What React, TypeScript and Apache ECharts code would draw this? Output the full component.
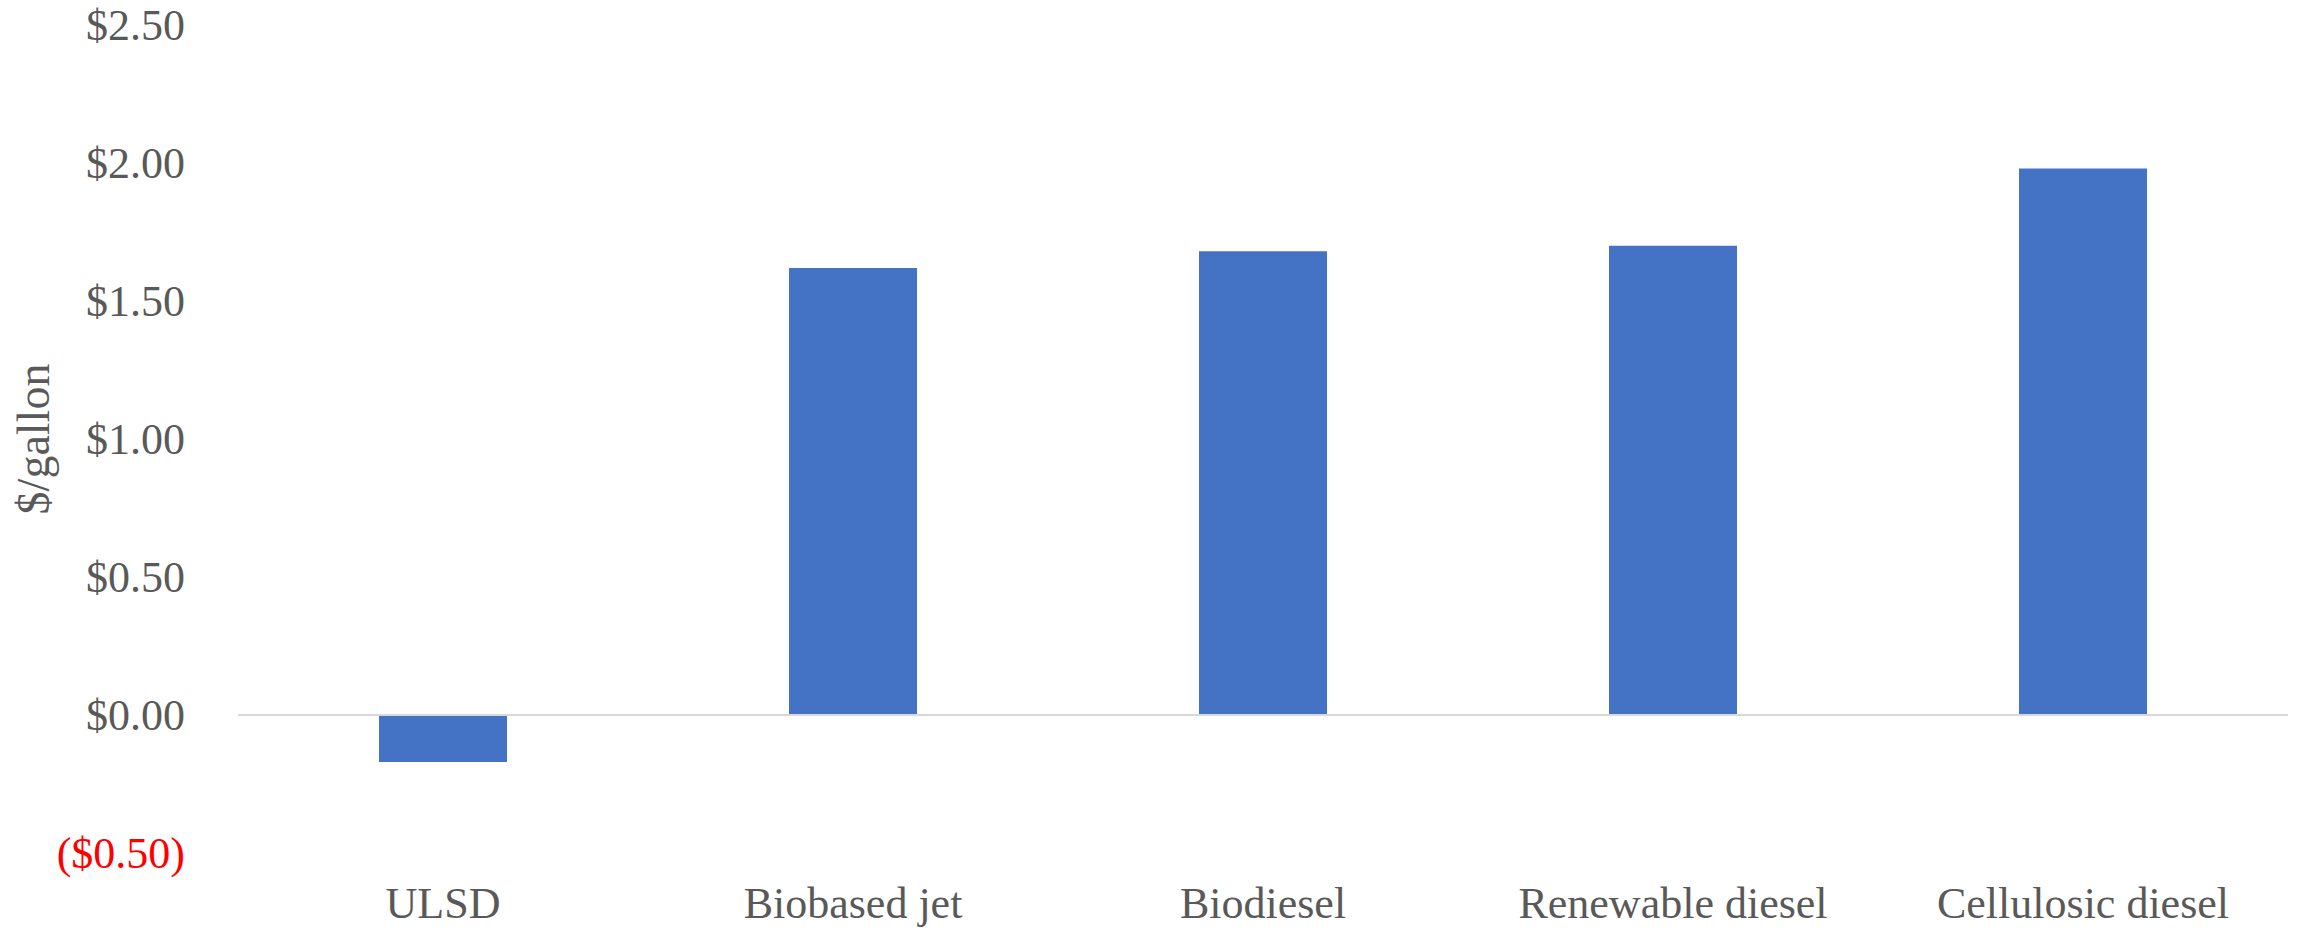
import React, { useEffect, useRef } from "react";
import * as echarts from "echarts";

const categories = ["ULSD", "Biobased jet", "Biodiesel", "Renewable diesel", "Cellulosic diesel"];
const values = [-0.17, 1.62, 1.68, 1.7, 1.98];
const yMin = -0.5;
const yMax = 2.5;
const yInterval = 0.5;

const FONT = "'Liberation Serif', 'DejaVu Serif', serif";

export default function App() {
  const ref = useRef<HTMLDivElement>(null);
  useEffect(() => {
    if (!ref.current) return;
    const chart = echarts.init(ref.current, undefined, { renderer: "svg" });
    chart.setOption({
      animation: false,
      backgroundColor: "#ffffff",
      grid: {
        left: 238,
        right: 10,
        top: 25,
        bottom: 80,
        containLabel: false,
        outerBoundsMode: "none",
      },
      xAxis: {
        type: "category",
        data: categories,
        axisLine: { show: false },
        axisTick: { show: false },
        axisLabel: { color: "#595959", fontFamily: FONT, fontSize: 44, margin: 28 },
      },
      yAxis: {
        type: "value",
        min: yMin,
        max: yMax,
        interval: yInterval,
        name: "$/gallon",
        nameLocation: "middle",
        nameRotate: 90,
        nameGap: 182,
        nameMoveOverlap: false,
        nameTextStyle: { color: "#595959", fontFamily: FONT, fontSize: 46 },
        axisLine: { show: false },
        axisTick: { show: false },
        splitLine: { show: false },
        axisLabel: {
          margin: 53,
          fontFamily: FONT,
          fontSize: 44,
          color: "#595959",
          formatter: (v: number) =>
            v < 0 ? `{neg|($${Math.abs(v).toFixed(2)})}` : `$${v.toFixed(2)}`,
          rich: {
            neg: { color: "#FF0000", fontFamily: FONT, fontSize: 44 },
          },
        },
      },
      series: [
        {
          type: "bar",
          data: values,
          barWidth: 128,
          itemStyle: { color: "#4472C4" },
          markLine: {
            silent: true,
            symbol: "none",
            label: { show: false },
            lineStyle: { color: "#D9D9D9", width: 2, type: "solid" },
            data: [{ yAxis: 0 }],
          },
        },
      ],
    });
    return () => chart.dispose();
  }, []);
  return (
    <div
      ref={ref}
      style={{ position: "fixed", left: 0, top: 0, width: 2298, height: 933 }}
    />
  );
}
